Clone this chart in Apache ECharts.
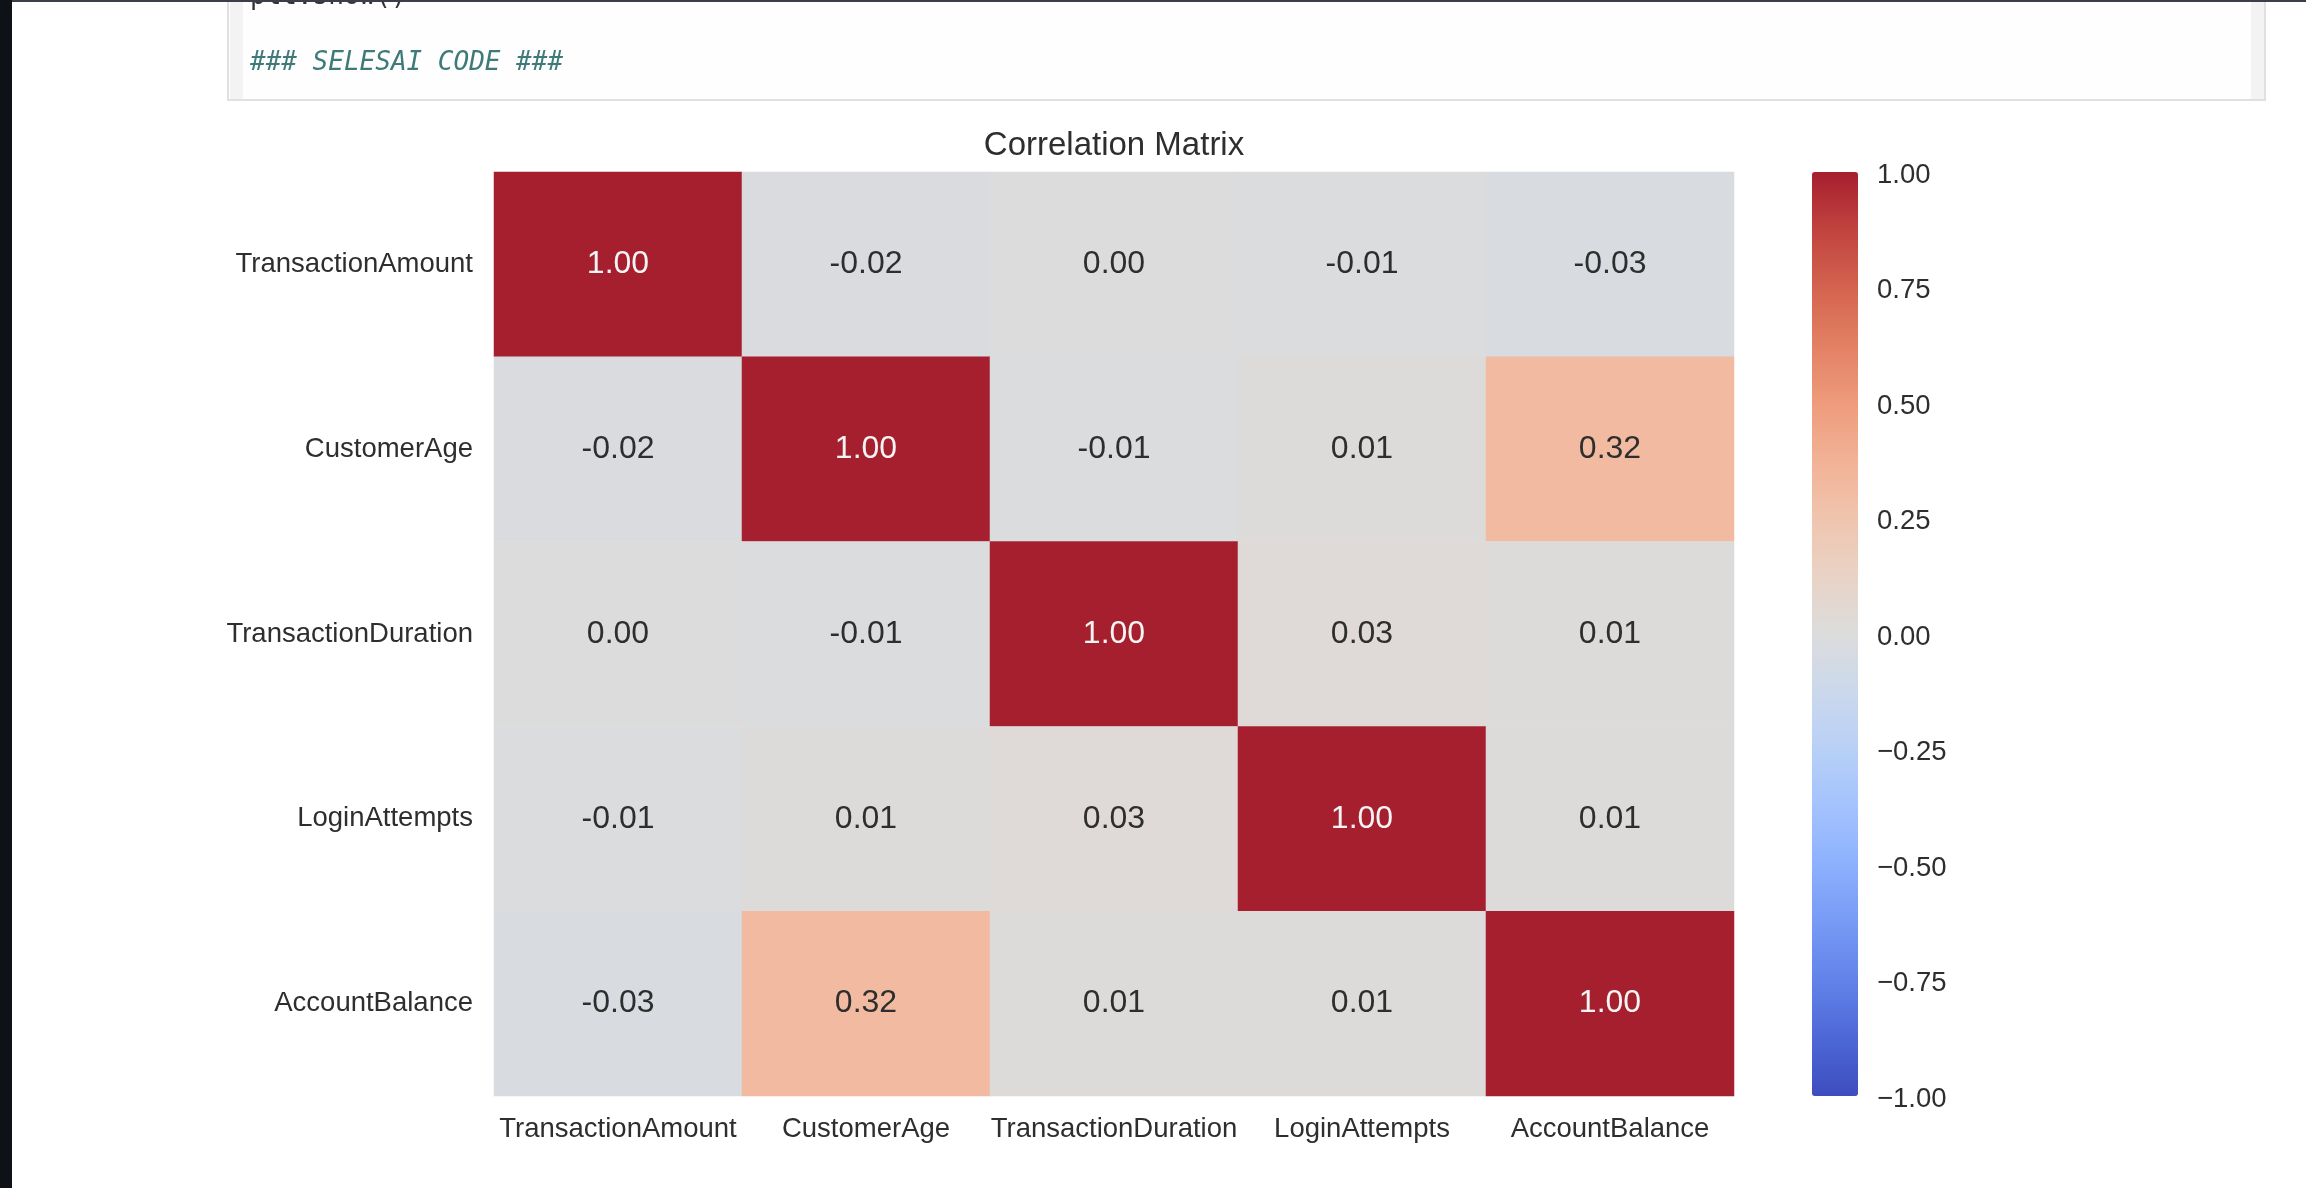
<!DOCTYPE html>
<html>
<head>
<meta charset="utf-8">
<title>Correlation Matrix</title>
<script src="https://cdn.jsdelivr.net/npm/echarts@6/dist/echarts.min.js"></script>
<style>
  html, body { margin: 0; padding: 0; background: #ffffff; }
  #chart { width: 2306px; height: 1188px; }
</style>
</head>
<body>
<div id="chart"></div>
<script>
// feature names (same order on both axes)
const features = ['TransactionAmount', 'CustomerAge', 'TransactionDuration', 'LoginAttempts', 'AccountBalance'];

// correlation values, one row per feature
const rowTransactionAmount   = [1.00, -0.02, 0.00, -0.01, -0.03];
const rowCustomerAge         = [-0.02, 1.00, -0.01, 0.01, 0.32];
const rowTransactionDuration = [0.00, -0.01, 1.00, 0.03, 0.01];
const rowLoginAttempts       = [-0.01, 0.01, 0.03, 1.00, 0.01];
const rowAccountBalance      = [-0.03, 0.32, 0.01, 0.01, 1.00];
const corrRows = [rowTransactionAmount, rowCustomerAge, rowTransactionDuration, rowLoginAttempts, rowAccountBalance];

// colorbar ticks
const cbarMin = -1;
const cbarMax = 1;
const cbarStep = 0.25;

// coolwarm-like palette (as seen in the picture)
const coolwarm = [
  '#3d4dbd', '#4d68d6', '#6282e9', '#779af5', '#8db0fd', '#a3c2fd', '#b8d0f7', '#cbd8ec',
  '#dcdcdc', '#e9d3c6', '#f0c4ae', '#f2b296', '#ee9b7c', '#e38064', '#d4634f', '#c1433f', '#a61f2e'
];

const FONT = '"Liberation Sans", Arial, sans-serif';
const MONO = '"DejaVu Sans Mono", monospace';
const TXT = '#2e2e2e';

// heatmap data [x, y, value]
let cells = [];
corrRows.forEach((row, y) => {
  row.forEach((v, x) => {
    cells.push({
      value: [x, y, v],
      label: {color: Math.abs(v) > 0.6 ? '#f4f4f4' : TXT}
    });
  });
});

// cells use a plain hyphen, the colorbar a real minus sign
const cellFmt = v => {
  let s = Number(v).toFixed(2);
  return s === '-0.00' ? '0.00' : s;
};
const cbarFmt = v => {
  let s = Number(v).toFixed(2);
  if (s === '-0.00') s = '0.00';
  return s.replace('-', '\u2212');
};

const chart = echarts.init(document.getElementById('chart'), null, {renderer: 'canvas'});

const option = {
  backgroundColor: '#ffffff',
  animation: false,
  graphic: [
    // notebook chrome
    {type: 'rect', shape: {x: 0, y: 0, width: 2306, height: 2}, style: {fill: '#3b3f47'}, z: 10},
    {type: 'rect', shape: {x: 0, y: 0, width: 12, height: 1188}, style: {fill: '#0e1116'}, z: 10},
    {type: 'rect', shape: {x: 228, y: -4, width: 2037, height: 104}, style: {fill: '#fefefe', stroke: '#e0e0e0', lineWidth: 2}},
    {type: 'rect', shape: {x: 230, y: 0, width: 13, height: 99}, style: {fill: '#f3f3f3'}},
    {type: 'rect', shape: {x: 2251, y: 0, width: 13, height: 99}, style: {fill: '#f3f3f3'}},
    {type: 'text', x: 250, y: 10, style: {text: 'plt.show()', font: '26px ' + MONO, fill: '#333333', textVerticalAlign: 'bottom'}},
    {type: 'text', x: 250, y: 63, style: {text: '### SELESAI CODE ###', font: 'italic 26px ' + MONO, fill: '#3d7a78', textVerticalAlign: 'middle'}},
    // chart title
    {type: 'text', x: 1114, y: 146, style: {text: 'Correlation Matrix', font: '33px ' + FONT, fill: TXT, textAlign: 'center', textVerticalAlign: 'middle'}}
  ],
  grid: [
    {left: 494, top: 172, width: 1240, height: 924},
    // colorbar tick labels sit a few px lower than the bar ends
    {left: 1812, top: 175, width: 46, height: 924}
  ],
  xAxis: [
    {
      type: 'category', gridIndex: 0, data: features,
      axisLine: {show: false}, axisTick: {show: false}, splitLine: {show: false},
      axisLabel: {fontFamily: FONT, fontSize: 27.5, color: TXT, margin: 19, interval: 0}
    },
    {type: 'value', gridIndex: 1, show: false, min: 0, max: 1}
  ],
  yAxis: [
    {
      type: 'category', gridIndex: 0, data: features, inverse: true,
      axisLine: {show: false}, axisTick: {show: false}, splitLine: {show: false},
      axisLabel: {fontFamily: FONT, fontSize: 27.5, color: TXT, margin: 21, interval: 0}
    },
    {
      type: 'value', gridIndex: 1, position: 'right', min: cbarMin, max: cbarMax, interval: cbarStep,
      axisLine: {show: false}, axisTick: {show: false}, splitLine: {show: false},
      axisLabel: {fontFamily: FONT, fontSize: 27.5, color: TXT, margin: 19, formatter: cbarFmt}
    }
  ],
  visualMap: {
    type: 'continuous',
    seriesIndex: 0,
    min: cbarMin,
    max: cbarMax,
    calculable: false,
    orient: 'vertical',
    left: 1812,
    top: 172,
    itemWidth: 46,
    itemHeight: 924,
    padding: 0,
    text: null,
    hoverLink: false,
    inRange: {color: coolwarm}
  },
  series: [
    {
      type: 'heatmap',
      xAxisIndex: 0,
      yAxisIndex: 0,
      data: cells,
      itemStyle: {borderWidth: 0},
      label: {
        show: true,
        fontFamily: FONT,
        fontSize: 32,
        formatter: p => cellFmt(p.value[2])
      },
      emphasis: {disabled: true}
    },
    {
      type: 'scatter',
      xAxisIndex: 1,
      yAxisIndex: 1,
      data: [],
      silent: true
    }
  ]
};

chart.setOption(option);
</script>
</body>
</html>
